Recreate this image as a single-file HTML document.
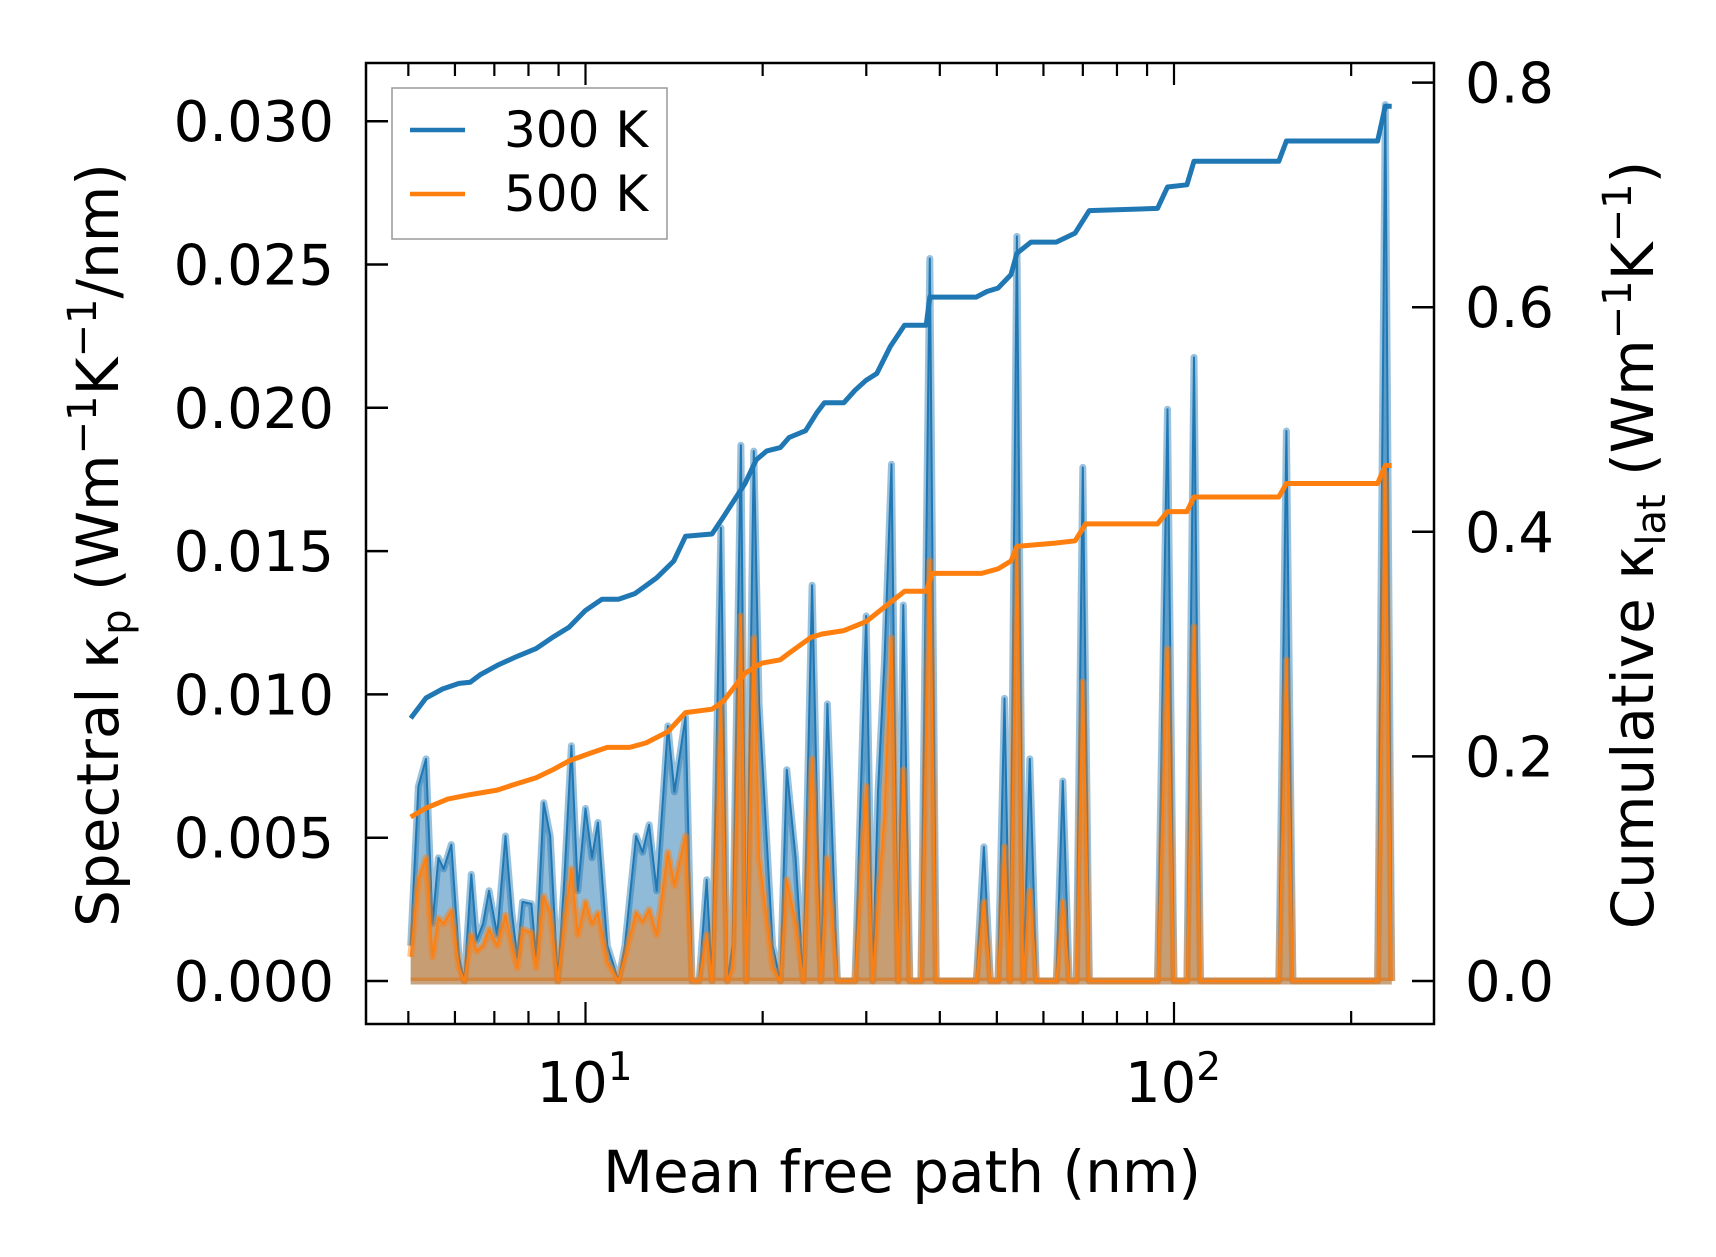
<!DOCTYPE html>
<html><head><meta charset="utf-8"><style>
html,body{margin:0;padding:0;background:#fff;}
svg{display:block;font-family:"DejaVu Sans","Liberation Sans",sans-serif;}
</style></head><body>
<svg id="chart" width="1716" height="1257" viewBox="0 0 1716 1257" xmlns="http://www.w3.org/2000/svg">
<g id="marks"></g>
<g id="axes"></g>
</svg>
<script>
// mean free path as log10(nm)
const mfpLog = [0.703,0.716,0.729,0.740,0.750,0.759,0.772,0.785,0.794,0.806,0.815,0.826,0.836,0.850,0.864,0.875,0.884,0.893,0.908,0.916,0.929,0.940,0.953,0.964,0.976,0.987,1.000,1.011,1.021,1.037,1.056,1.067,1.086,1.097,1.108,1.121,1.140,1.151,1.170,1.181,1.193,1.206,1.215,1.230,1.241,1.250,1.264,1.273,1.286,1.295,1.318,1.331,1.342,1.357,1.370,1.385,1.400,1.411,1.428,1.458,1.477,1.488,1.497,1.508,1.520,1.531,1.540,1.551,1.570,1.585,1.596,1.664,1.677,1.688,1.701,1.712,1.721,1.733,1.744,1.755,1.766,1.800,1.811,1.822,1.834,1.845,1.856,1.972,1.989,2.000,2.022,2.034,2.045,2.178,2.191,2.202,2.346,2.359,2.370];
const spec300 = [.00123,.00679,.00775,.00200,.00430,.00391,.00476,.00084,0,.00372,.00142,.00200,.00315,.00161,.00506,.00238,.00084,.00276,.00269,.00084,.00622,.00506,0,.00353,.00821,.00315,.00602,.00430,.00553,.00123,0,.00123,.00506,.00449,.00545,.00315,.00890,.00660,.00921,0,0,.00353,0,.01581,0,.00123,.01869,0,.01849,.00967,.00123,0,.00737,.00430,0,.01381,0,.00967,0,0,.01274,0,.00660,.01120,.01803,0,.01312,0,0,.02521,0,0,.00468,0,0,.00986,0,.02598,0,.00775,0,0,.00698,0,0,.01792,0,0,.01995,0,0,.02176,0,0,.01919,0,0,.03058,0];
const spec500 = [.00084,.00353,.00430,.00084,.00219,.00200,.00246,.00046,0,.00161,.00104,.00123,.00180,.00123,.00230,.00123,.00046,.00180,.00169,.00046,.00295,.00238,0,.00200,.00391,.00161,.00276,.00200,.00238,.00065,0,.00084,.00238,.00207,.00249,.00161,.00449,.00334,.00506,0,0,.00161,0,.00967,0,.00046,.01274,0,.01197,.00430,.00046,0,.00353,.00200,0,.00775,0,.00430,0,0,.00679,0,.00276,.00583,.01197,0,.00737,0,0,.01466,0,0,.00276,0,0,.00468,0,.01504,0,.00315,0,0,.00276,0,0,.01044,0,0,.01159,0,0,.01236,0,0,.01120,0,0,.01773,0];
const cum300Log = [0.703,0.729,0.757,0.785,0.804,0.822,0.850,0.879,0.916,0.944,0.972,1.000,1.028,1.056,1.084,1.121,1.150,1.170,1.215,1.234,1.271,1.290,1.308,1.331,1.346,1.374,1.393,1.406,1.439,1.458,1.477,1.495,1.518,1.542,1.579,1.585,1.664,1.682,1.701,1.723,1.733,1.757,1.800,1.832,1.856,1.972,1.989,2.022,2.034,2.178,2.191,2.346,2.359,2.370];
const cum300 = [.234,.252,.260,.265,.266,.273,.281,.288,.296,.306,.315,.330,.340,.340,.345,.359,.374,.396,.398,.413,.443,.464,.472,.475,.484,.490,.506,.515,.515,.526,.535,.541,.565,.584,.584,.609,.609,.614,.617,.629,.648,.658,.658,.666,.686,.688,.707,.709,.730,.730,.748,.748,.779,.779];
const cum500Log = [0.703,0.729,0.766,0.804,0.850,0.879,0.916,0.944,0.972,1.009,1.037,1.075,1.103,1.140,1.170,1.215,1.234,1.271,1.299,1.331,1.346,1.383,1.402,1.439,1.477,1.518,1.542,1.579,1.589,1.673,1.701,1.723,1.733,1.800,1.832,1.850,1.972,1.989,2.022,2.034,2.178,2.191,2.346,2.359,2.370];
const cum500 = [.146,.154,.162,.166,.170,.175,.181,.188,.196,.203,.208,.208,.212,.222,.239,.242,.249,.274,.283,.286,.292,.306,.309,.312,.320,.337,.347,.347,.363,.363,.367,.374,.387,.390,.392,.407,.407,.418,.418,.431,.431,.443,.443,.459,.459];
const leftTicks = [0,0.005,0.010,0.015,0.020,0.025,0.030];
const leftTickLabels = ["0.000","0.005","0.010","0.015","0.020","0.025","0.030"];
const rightTicks = [0,0.2,0.4,0.6,0.8];
const rightTickLabels = ["0.0","0.2","0.4","0.6","0.8"];

const NS="http://www.w3.org/2000/svg";
const L=366,R=1434,T=63,B=1024;
const xs = e => 588.5*e - 3;
const yl = v => 981 - v/0.005*143.3;
const yr = v => 981 - v/0.1*112.3;
const marks=document.getElementById('marks'), axes=document.getElementById('axes');
function mk(tag,attrs,parent){const e=document.createElementNS(NS,tag);for(const k in attrs)e.setAttribute(k,attrs[k]);parent.appendChild(e);return e;}

function spectral(vals,color,fill,name){
  let line=mfpLog.map((e,i)=>xs(e).toFixed(1)+','+yl(vals[i]).toFixed(1)).join(' ');
  let area='M'+xs(mfpLog[0])+','+yl(0)+' L'+line.split(' ').join(' L')+' L'+xs(mfpLog[mfpLog.length-1])+','+yl(0)+'Z';
  const a=mk('path',{d:area,fill:fill,stroke:'none'},marks);
  
  
  const h=mk('polyline',{points:line,fill:'none',stroke:color,'stroke-opacity':0.45,'stroke-width':7,'stroke-linejoin':'round'},marks);
  
  
  const b=mk('line',{x1:xs(mfpLog[0]),x2:xs(mfpLog[mfpLog.length-1]),y1:yl(0),y2:yl(0),stroke:color,'stroke-opacity':0.45,'stroke-width':7},marks);
  
  
  const l=mk('polyline',{points:line,fill:'none',stroke:color,'stroke-width':2,'stroke-linejoin':'round'},marks);
  
  
}
spectral(spec300,'#1f77b4','rgba(31,119,180,0.5)','spectral-300k');
spectral(spec500,'#ff7f0e','rgba(255,127,14,0.5)','spectral-500k');

function cum(lg,vals,color,name){
  const p=mk('polyline',{points:lg.map((e,i)=>xs(e).toFixed(1)+','+yr(vals[i]).toFixed(1)).join(' '),fill:'none',stroke:color,'stroke-width':5,'stroke-linejoin':'round'},marks);
  
  
}
cum(cum300Log,cum300,'#1f77b4','cumulative-300k');
cum(cum500Log,cum500,'#ff7f0e','cumulative-500k');

const fr=mk('rect',{x:L,y:T,width:R-L,height:B-T,fill:'none',stroke:'#000','stroke-width':2.5},axes);



function txt(s,attrs,name){const t=mk('text',attrs,axes);t.textContent=s;return t;}

leftTicks.forEach((v,i)=>{
  const tk=mk('line',{x1:L,x2:L+22,y1:yl(v),y2:yl(v),stroke:'#000','stroke-width':2.5},axes);
  
  
  txt(leftTickLabels[i],{x:L-32,y:yl(v)+20,'font-size':56,'text-anchor':'end'},'left-tick-label');
});
rightTicks.forEach((v,i)=>{
  const tk=mk('line',{x1:R-22,x2:R,y1:yr(v),y2:yr(v),stroke:'#000','stroke-width':2.5},axes);
  
  
  txt(rightTickLabels[i],{x:R+31,y:yr(v)+20,'font-size':56},'right-tick-label');
});
for(let d=0;d<=2;d++){
  for(let m=1;m<10;m++){
    const e=d+Math.log10(m), x=xs(e);
    if(x<L+2||x>R-2) continue;
    const len=m===1?22:13;
    const t1=mk('line',{x1:x,x2:x,y1:B,y2:B-len,stroke:'#000','stroke-width':2.2},axes);
    
    
    const t2=mk('line',{x1:x,x2:x,y1:T,y2:T+len,stroke:'#000','stroke-width':2.2},axes);
    
    
  }
}
[1,2].forEach(d=>{
  const t=txt('10',{x:xs(d)-1,y:1102,'font-size':56,'text-anchor':'middle'},'x-tick-label');
  const s=mk('tspan',{dy:-22,'font-size':39},t); s.textContent=String(d);
});
txt('Mean free path (nm)',{x:902,y:1192,'font-size':58,'text-anchor':'middle'},'x-axis-title');
const yt=txt('',{transform:'translate(118,545) rotate(-90)','font-size':58,'text-anchor':'middle'},'left-axis-title');
yt.innerHTML='Spectral κ<tspan font-size="40" dy="12">p</tspan><tspan dy="-12"> (Wm</tspan><tspan font-size="40" dy="-22">−1</tspan><tspan dy="22">K</tspan><tspan font-size="40" dy="-22">−1</tspan><tspan dy="22">/nm)</tspan>';
const yt2=txt('',{transform:'translate(1653,545) rotate(-90)','font-size':58,'text-anchor':'middle'},'right-axis-title');
yt2.innerHTML='Cumulative κ<tspan font-size="40" dy="12">lat</tspan><tspan dy="-12"> (Wm</tspan><tspan font-size="40" dy="-22">−1</tspan><tspan dy="22">K</tspan><tspan font-size="40" dy="-22">−1</tspan><tspan dy="22">)</tspan>';

const lg=mk('rect',{x:392,y:88,width:275,height:151,fill:'#fff','fill-opacity':0.8,stroke:'#999','stroke-width':1.5},axes);


[['300 K','#1f77b4',130],['500 K','#ff7f0e',194]].forEach(([s,c,y])=>{
  const l=mk('line',{x1:410,x2:465,y1:y,y2:y,stroke:c,'stroke-width':4.5},axes);
  
  
  txt(s,{x:504,y:y+17,'font-size':50},'legend-entry');
});
</script>
</body></html>
